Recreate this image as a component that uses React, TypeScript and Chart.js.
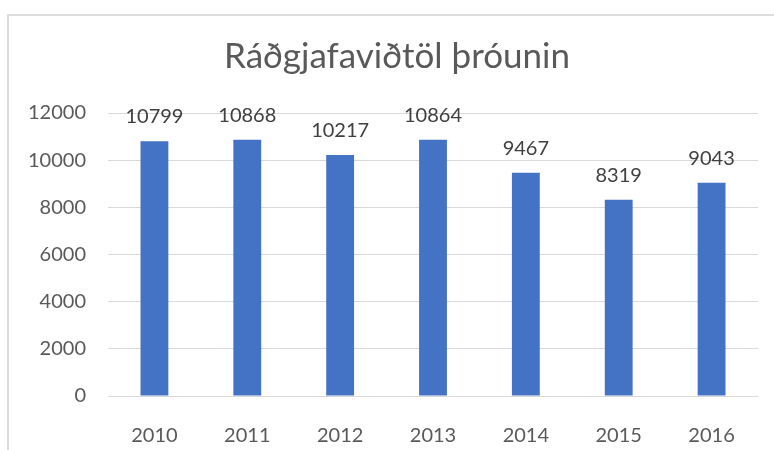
import React, { useEffect, useRef } from "react";
import { Chart, registerables } from "chart.js";

Chart.register(...registerables);

const TITLE = "Ráðgjafaviðtöl þróunin";
const YEARS = ["2010", "2011", "2012", "2013", "2014", "2015", "2016"];
const VALUES = [10799, 10868, 10217, 10864, 9467, 8319, 9043];
const Y_MIN = 0;
const Y_MAX = 12000;
const Y_STEP = 2000;

const FONT = "Lato, 'Open Sans', sans-serif";

const framePlugin = {
  id: "frame",
  beforeDraw(chart: any) {
    const ctx = chart.ctx;
    ctx.save();
    ctx.fillStyle = "#ffffff";
    ctx.fillRect(0, 0, chart.width, chart.height);
    ctx.fillStyle = "#dcdcdc";
    ctx.fillRect(7, 14, 2, chart.height - 14);
    ctx.fillRect(7, 14, chart.width - 7, 2);
    ctx.font = `35px ${FONT}`;
    ctx.fillStyle = "#595959";
    ctx.textAlign = "center";
    ctx.textBaseline = "middle";
    ctx.fillText(TITLE, 397, 57);
    ctx.restore();
  },
};

const valueLabelPlugin = {
  id: "valueLabels",
  afterDatasetsDraw(chart: any) {
    const ctx = chart.ctx;
    const meta = chart.getDatasetMeta(0);
    const data = chart.data.datasets[0].data;
    ctx.save();
    ctx.font = `20px ${FONT}`;
    ctx.fillStyle = "#404040";
    ctx.textAlign = "center";
    ctx.textBaseline = "alphabetic";
    meta.data.forEach((bar: any, i: number) => {
      ctx.fillText(String(data[i]), bar.x, bar.y - 18);
    });
    ctx.restore();
  },
};

export default function App() {
  const ref = useRef<HTMLCanvasElement | null>(null);

  useEffect(() => {
    if (!ref.current) return;
    const chart = new Chart(ref.current, {
      type: "bar",
      data: {
        labels: YEARS,
        datasets: [
          {
            data: VALUES,
            backgroundColor: "#4472C4",
            borderWidth: 0,
            categoryPercentage: 1,
            barPercentage: 0.3,
          },
        ],
      },
      options: {
        animation: false,
        responsive: false,
        maintainAspectRatio: false,
        layout: { padding: { left: 0, right: 16, top: 113, bottom: 0 } },
        plugins: {
          legend: { display: false },
          tooltip: { enabled: false },
          title: { display: false },
        },
        scales: {
          x: {
            grid: { display: false },
            border: { display: false },
            ticks: {
              color: "#595959",
              font: { family: FONT, size: 20 },
              padding: 20,
              maxRotation: 0,
            },
            afterFit(scale: any) {
              scale.height = 54;
            },
          },
          y: {
            min: Y_MIN,
            max: Y_MAX,
            grid: { color: "#d9d9d9", lineWidth: 1, drawTicks: false },
            border: { display: false },
            ticks: {
              stepSize: Y_STEP,
              color: "#595959",
              font: { family: FONT, size: 20 },
              padding: 22,
              callback: (v: any) => String(v),
            },
            afterFit(scale: any) {
              scale.width = 108;
            },
          },
        },
      },
      plugins: [framePlugin, valueLabelPlugin],
    });
    return () => chart.destroy();
  }, []);

  return (
    <canvas
      ref={ref}
      width={774}
      height={450}
      style={{ position: "fixed", left: 0, top: 0, width: 774, height: 450 }}
    />
  );
}
